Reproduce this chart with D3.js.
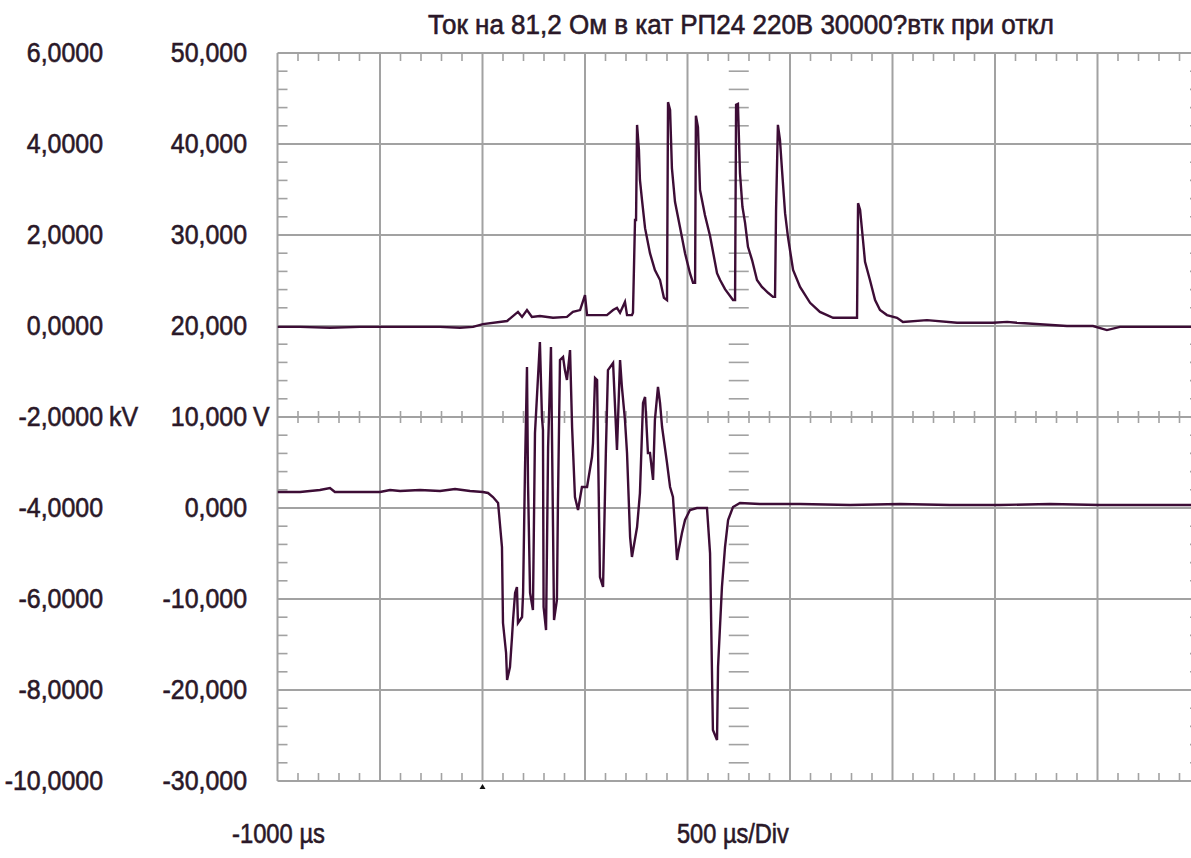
<!DOCTYPE html>
<html>
<head>
<meta charset="utf-8">
<script src="https://cdn.jsdelivr.net/npm/d3@7"></script>
<style>
  body { margin: 0; background: #fff; }
  svg text { font-family: "Liberation Sans", Arial, sans-serif; fill: #2a1828; stroke: #2a1828; stroke-width: 0.6; }
</style>
</head>
<body>
<div id="chart"></div>
<script>
const title = "Ток на 81,2 Ом в кат РП24 220В 30000?втк при откл";
const timeTicks = [-1000, -500, 0, 500, 1000, 1500, 2000, 2500, 3000, 3500];
const kvTicks = [6, 4, 2, 0, -2, -4, -6, -8, -10];
const vTicks = [50, 40, 30, 20, 10, 0, -10, -20, -30];

// upper trace, kV (left column)
const topTime = [-1000, -890, -744, -598, -402, -207, -110, -46, 2, 120, 173, 193, 217, 241, 280, 344, 412, 441, 476, 500,
  510, 607, 637, 656, 671, 695, 705, 729, 734, 744, 749, 754, 763, 768, 778, 793, 817, 841, 866, 885,
  900, 905, 915, 924, 939, 963, 988, 1012, 1027, 1037, 1041, 1051, 1061, 1085, 1110, 1144, 1159, 1183, 1222, 1232,
  1237, 1246, 1256, 1268, 1281, 1295, 1315, 1339, 1363, 1393, 1417, 1427, 1432, 1441, 1451, 1461, 1476, 1490, 1515, 1549,
  1598, 1646, 1710, 1778, 1817, 1827, 1832, 1842, 1856, 1866, 1890, 1915, 1939, 1973, 2022, 2051, 2168, 2315, 2490, 2559,
  2607, 2851, 2978, 3046, 3110, 3256, 3500];
const topKV = [-0.02, -0.02, -0.04, -0.02, -0.02, -0.02, -0.04, -0.02, 0.04, 0.11, 0.31, 0.20, 0.35, 0.20, 0.22, 0.18, 0.20, 0.31, 0.35, 0.68,
  0.24, 0.24, 0.35, 0.40, 0.29, 0.53, 0.24, 0.24, 0.29, 2.33, 2.33, 4.42, 3.87, 3.21, 2.77, 2.15, 1.60, 1.23, 1.01, 0.62,
  0.57, 4.92, 4.75, 3.47, 2.73, 2.18, 1.60, 1.16, 0.95, 0.95, 4.62, 4.37, 2.99, 2.44, 1.98, 1.16, 1.01, 0.81, 0.57, 0.57,
  4.86, 4.88, 3.36, 2.62, 2.26, 1.74, 1.45, 1.01, 0.86, 0.73, 0.64, 0.64, 2.55, 4.42, 4.09, 3.43, 2.48, 1.96, 1.23, 0.86,
  0.51, 0.31, 0.18, 0.18, 0.18, 0.18, 2.70, 2.55, 1.89, 1.41, 1.01, 0.57, 0.35, 0.24, 0.18, 0.09, 0.13, 0.07, 0.07, 0.09,
  0.07, 0.00, 0.00, -0.09, -0.02, -0.02, -0.02];

// lower trace, V (right column)
const botTime = [-1000, -890, -793, -744, -720, -500, -451, -402, -305, -207, -134, -61, 2, 27, 51, 76, 95, 100, 115, 120,
  134, 144, 149, 159, 168, 173, 193, 198, 207, 217, 222, 232, 246, 256, 280, 290, 295, 298, 310, 320,
  334, 344, 349, 363, 368, 378, 393, 402, 412, 427, 437, 451, 466, 485, 510, 534, 539, 549, 559, 563,
  573, 588, 602, 612, 637, 656, 671, 680, 695, 705, 720, 729, 754, 768, 783, 793, 807, 817, 832, 841,
  856, 866, 876, 900, 915, 929, 939, 949, 954, 973, 988, 1012, 1046, 1095, 1110, 1124, 1144, 1149, 1168, 1183,
  1198, 1222, 1256, 1353, 1549, 1793, 2037, 2280, 2524, 2768, 3012, 3256, 3500];
const botV = [1.76, 1.76, 1.98, 2.20, 1.76, 1.76, 1.98, 1.87, 1.98, 1.87, 2.09, 1.87, 1.76, 1.65, 1.21, 0.55, -4.29, -12.64, -15.93, -18.90,
  -17.47, -14.18, -12.31, -9.34, -8.68, -12.64, -11.98, -9.34, 3.85, 15.49, 2.75, -9.34, -11.21, 8.24, 18.24, 10.0, 8.57, -10.88, -13.41, 6.70,
  17.69, -2.09, -12.31, -10.11, 0.55, 16.26, 16.59, 15.16, 14.07, 17.36, 8.90, 1.21, -0.22, 2.31, 2.31, 5.60, 7.14, 14.29, 14.07, 7.47,
  -7.58, -8.68, 6.37, 15.16, 15.93, 6.37, 16.26, 13.30, 9.67, 6.04, -3.19, -5.38, -2.09, 1.65, 11.54, 12.20, 6.04, 6.04, 3.08, 9.67,
  13.30, 11.54, 8.90, 4.95, 2.31, 1.21, -2.09, -5.71, -4.95, -2.75, -1.32, -0.22, 0.0, 0.0, -4.95, -24.40, -25.49, -17.47, -8.68, -4.29,
  -1.32, 0.11, 0.55, 0.44, 0.44, 0.33, 0.44, 0.33, 0.33, 0.44, 0.33, 0.33, 0.33];

const width = 1191, height = 858;
const plotL = 277.5, plotR = 1200, plotT = 53, plotB = 781;

const x = d3.scaleLinear().domain([-1000, 3500]).range([plotL, plotR]);
const yKV = d3.scaleLinear().domain([-10, 6]).range([plotB, plotT]);
const yV = d3.scaleLinear().domain([-30, 50]).range([plotB, plotT]);

const svg = d3.select("#chart").append("svg")
    .attr("width", width)
    .attr("height", height)
    .style("background", "#fff");

const gridColor = "#a2a2a2";

// grid
const grid = svg.append("g").attr("stroke", gridColor).attr("stroke-width", 2);
grid.selectAll("line.v").data(timeTicks).join("line")
    .attr("class", "v")
    .attr("x1", d => x(d)).attr("x2", d => x(d))
    .attr("y1", plotT).attr("y2", plotB);
grid.selectAll("line.h").data(vTicks).join("line")
    .attr("class", "h")
    .attr("x1", plotL).attr("x2", plotR)
    .attr("y1", d => yV(d)).attr("y2", d => yV(d));

// minor ticks
const minorT = d3.range(-1000, 3500.1, 100).filter(t => t % 500 !== 0);
const minorV = d3.range(-30, 50.1, 2).filter(v => v % 10 !== 0);
const ticks = svg.append("g").attr("stroke", gridColor).attr("stroke-width", 1.6);
function tickRow(vals, y0, y1) {
  ticks.append("g").selectAll("line").data(vals).join("line")
      .attr("x1", d => x(d)).attr("x2", d => x(d))
      .attr("y1", y0).attr("y2", y1);
}
function tickCol(vals, x0, x1) {
  ticks.append("g").selectAll("line").data(vals).join("line")
      .attr("x1", x0).attr("x2", x1)
      .attr("y1", d => yV(d)).attr("y2", d => yV(d));
}
tickRow(minorT, plotT, plotT + 8);
tickRow(minorT, plotB - 8, plotB);
tickRow(minorT, yV(10) - 6, yV(10) + 6);
tickCol(minorV, plotL, plotL + 10);
tickCol(minorV, plotR - 10, plotR);
tickCol(minorV, x(1250) - 10, x(1250) + 10);

// traces
svg.append("clipPath").attr("id", "plot")
  .append("rect").attr("x", plotL).attr("y", plotT - 2).attr("width", plotR - plotL).attr("height", plotB - plotT + 4);

const traceColor = "#3d0d36";
const lineTop = d3.line().x(d => x(d[0])).y(d => yKV(d[1]));
const lineBot = d3.line().x(d => x(d[0])).y(d => yV(d[1]));

svg.append("path")
    .datum(d3.zip(topTime, topKV))
    .attr("clip-path", "url(#plot)")
    .attr("fill", "none")
    .attr("stroke", traceColor)
    .attr("stroke-width", 2.4)
    .attr("d", lineTop);

svg.append("path")
    .datum(d3.zip(botTime, botV))
    .attr("clip-path", "url(#plot)")
    .attr("fill", "none")
    .attr("stroke", traceColor)
    .attr("stroke-width", 2.4)
    .attr("d", lineBot);

// trigger marker
svg.append("path")
    .attr("d", `M${x(0) - 3},${plotB + 8} L${x(0)},${plotB + 3} L${x(0) + 3},${plotB + 8} Z`)
    .attr("fill", "#111");

// text
function fitText(str, tx, ty, w, anchor) {
  const t = svg.append("text")
      .attr("font-size", 28)
      .attr("text-anchor", anchor)
      .text(str);
  const len = t.node().getComputedTextLength();
  t.attr("transform", `translate(${tx},${ty}) scale(${w / len},1)`);
  return t;
}
const comma = s => s.replace("−", "-").replace(".", ",");
const fmtKV = d => comma(d3.format(".4f")(d));
const fmtV = d => comma(d3.format(".3f")(d));
const sx = 0.89;

function label(str, tx, ty, anchor) {
  svg.append("text")
      .attr("font-size", 28)
      .attr("text-anchor", anchor)
      .attr("transform", `translate(${tx},${ty}) scale(${sx},1)`)
      .text(str);
}

kvTicks.forEach(d => label(fmtKV(d), 103, yKV(d) + 9, "end"));
vTicks.forEach(d => label(fmtV(d), 247, yV(d) + 9, "end"));
label("kV", 109, yKV(-2) + 9, "start");
label("V", 253, yV(10) + 9, "start");

fitText(title, 741, 34, 626, "middle");
fitText("-1000 µs", 232, 843, 93, "start");
fitText("500 µs/Div", 677, 843, 112, "start");
</script>
</body>
</html>
